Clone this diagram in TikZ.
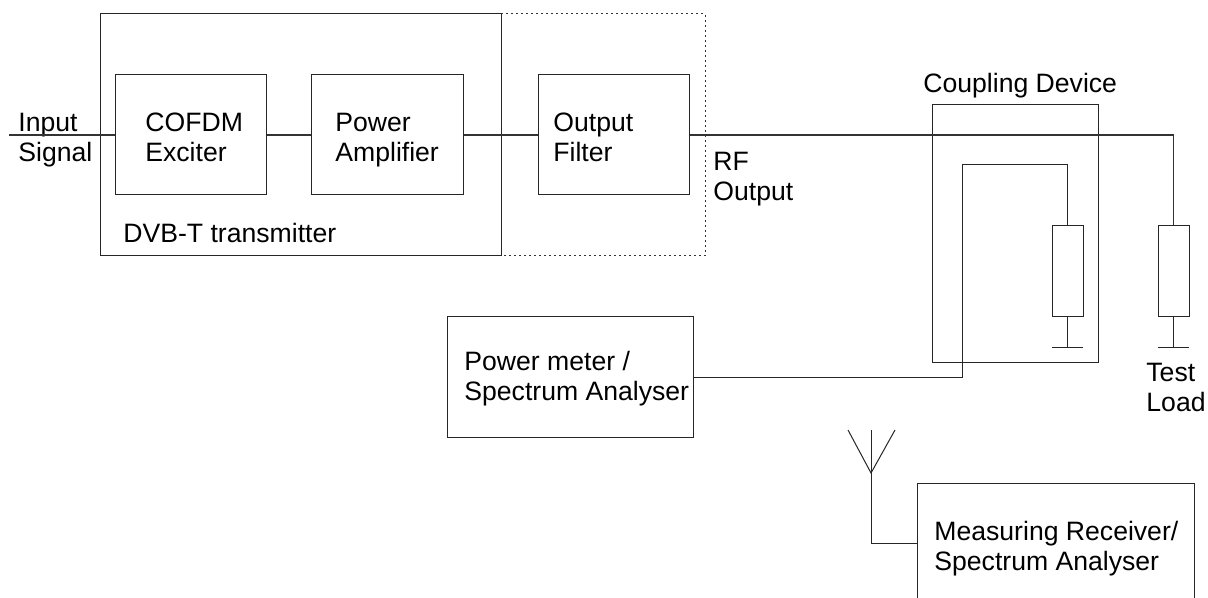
\documentclass[tikz,border=0pt]{standalone}
\usepackage{fontspec}
\setmainfont{Liberation Sans}
\usetikzlibrary{fit}
\begin{document}
\begin{tikzpicture}[x=0.5pt,y=-0.5pt,
  box/.style={draw=black!85, line width=0.5pt, inner sep=0pt, rectangle},
  wire/.style={draw=black!80, line width=0.6pt},
  thin/.style={draw=black!85, line width=0.5pt},
  dotbox/.style={draw=black!80, line width=0.5pt, dash pattern=on 1pt off 1.5pt},
  lbl/.style={inner sep=0pt, anchor=base west, align=left, font=\fontsize{13.3pt}{15pt}\selectfont}]
\useasboundingbox (0,0) rectangle (1208,598);
\clip (0,0) rectangle (1208,598);
% boxes
\node[box, fit={(100,14) (501,256)}] (dvb) {};
\draw[dotbox] (501,14) -- (705,14) -- (705,256) -- (501,256);
\node[box, fit={(115,75) (266,195)}] (cofdm) {};
\node[box, fit={(311,75) (463,195)}] (pa) {};
\node[box, fit={(538,75) (689,195)}] (filt) {};
\node[box, fit={(932,105) (1098,362)}] (coup) {};
\node[box, fit={(1052,226) (1083,317)}] (res1) {};
\node[box, fit={(1158,226) (1189,317)}] (res2) {};
\node[box, fit={(447,317) (693,437)}] (pm) {};
\node[box, fit={(917,483) (1194,603)}] (mr) {};
% labels
\node[lbl] (tin) at (18,162) {Input\\Signal};
\node[lbl] (tcofdm) at (145,162) {COFDM\\Exciter};
\node[lbl] (tpa) at (335,162) {Power\\Amplifier};
\node[lbl] (tfilt) at (553,162) {Output\\Filter};
\node[lbl] (trf) at (713,201) {RF\\Output};
\node[lbl] (tdvb) at (123,243) {DVB-T transmitter};
\node[lbl] (tcoup) at (923,93) {Coupling Device};
\node[lbl] (tpm) at (464,400) {Power meter /\\Spectrum Analyser};
\node[lbl] (tload) at (1146,411) {Test\\Load};
\node[lbl] (tmr) at (934,570) {Measuring Receiver/\\Spectrum Analyser};
% coordinates
\coordinate (in) at (9,135);
\coordinate (loop) at (962,165);
\coordinate (g1) at (1067.5,347);
\coordinate (g2) at (1173.5,347);
\coordinate (anttop) at (871,430);
\coordinate (antbase) at (871,473);
\coordinate (antl) at (848,430);
\coordinate (antr) at (895,430);
% connectors
\draw[wire] (in) -- (cofdm.west);
\draw[wire] (cofdm.east) -- (pa.west);
\draw[wire] (pa.east) -- (filt.west);
\draw[wire] (filt.east) -| (res2.north);
\draw[thin] (res2.south) -- (g2);
\draw[thin] (1158,347) -- (1189,347);
\draw[thin] (pm.east) -| (loop) -| (res1.north);
\draw[thin] (res1.south) -- (g1);
\draw[thin] (1052,347) -- (1083,347);
\draw[thin] (mr.west) -| (anttop);
\draw[thin] (antl) -- (antbase) -- (antr);
\end{tikzpicture}
\end{document}
